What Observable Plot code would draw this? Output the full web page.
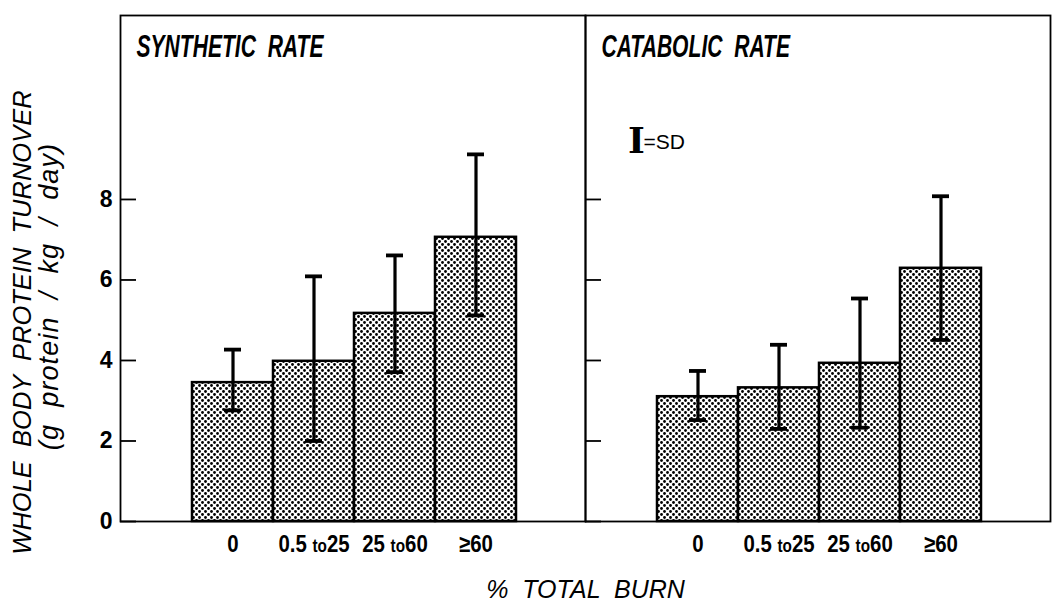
<!DOCTYPE html>
<html><head><meta charset="utf-8">
<script src="https://cdn.jsdelivr.net/npm/d3@7"></script>
<script src="https://cdn.jsdelivr.net/npm/@observablehq/plot@0.6"></script>
<style>
body{margin:0;background:#fff}
#chart svg{display:block}
#chart svg text{white-space:pre}
</style>
</head><body><div id="chart"></div>
<script>
// ---- data ----
const panels = ["SYNTHETIC  RATE", "CATABOLIC  RATE"];
const burnGroups = ["0", "0.5 to 25", "25 to 60", "≥60"];
const synthMean = [3.45, 3.98, 5.17, 7.06];
const synthLow  = [2.76, 2.00, 3.71, 5.12];
const synthHigh = [4.27, 6.09, 6.61, 9.12];
const catabMean = [3.10, 3.32, 3.93, 6.29];
const catabLow  = [2.52, 2.30, 2.33, 4.51];
const catabHigh = [3.74, 4.39, 5.54, 8.08];
const yTicks = [0, 2, 4, 6, 8];
const yTitle = "WHOLE  BODY  PROTEIN  TURNOVER";
const yUnits = "(g  protein  /  kg  /  day)";
const xTitle = "%  TOTAL  BURN";
const legendGlyph = "I";
const legendText = "=SD";

const rows = [];
burnGroups.forEach((g, i) => {
  rows.push({panel: panels[0], group: g, mean: synthMean[i], low: synthLow[i], high: synthHigh[i]});
  rows.push({panel: panels[1], group: g, mean: catabMean[i], low: catabLow[i], high: catabHigh[i]});
});

const SANS = "'Liberation Sans', Arial, Helvetica, sans-serif";

const chart = Plot.plot({
  width: 1056,
  height: 603,
  marginLeft: 120,
  marginRight: 6,
  marginTop: 15,
  marginBottom: 82,
  style: {background: "white", color: "black", fontFamily: SANS, overflow: "visible"},
  fx: {domain: panels, padding: 0, axis: null},
  x: {domain: burnGroups, paddingInner: 0, paddingOuter: 0.862, align: 0.514},
  y: {domain: [0, 12.57]},
  marks: [
    Plot.barY(rows, {fx: "panel", x: "group", y: "mean", fill: "url(#stipple)", stroke: "black", strokeWidth: 2.5}),
    Plot.ruleX(rows, {fx: "panel", x: "group", y1: "low", y2: "high", stroke: "black", strokeWidth: 3.2}),
    Plot.tickY(rows, {fx: "panel", x: "group", y: "high", stroke: "black", strokeWidth: 3.8, inset: 32}),
    Plot.tickY(rows, {fx: "panel", x: "group", y: "low", stroke: "black", strokeWidth: 3.8, inset: 32}),
    Plot.frame({stroke: "black", strokeWidth: 1.8}),
    // inward ticks in every panel
    Plot.axisY({ticks: yTicks, tickSize: 16, dx: 16, text: null, label: null, facetAnchor: null, strokeWidth: 1.8}),
    // tick labels only on the left
    Plot.axisY({ticks: yTicks, tickSize: 0, tickPadding: 8, label: null, fontSize: 23, fontWeight: "bold", tickFormat: d => String(d)}),
    Plot.axisX({tickSize: 0, tickPadding: 13, label: null, fontSize: 24, fontWeight: "bold"}),
    // panel titles
    Plot.text(panels, {fx: d => d, text: d => d, frameAnchor: "top-left", dx: 16, dy: 19, textAnchor: "start", lineAnchor: "top",
      fontSize: 31, fontStyle: "italic", fontWeight: "bold", fontFamily: SANS}),
    // SD legend in right panel
    Plot.text([panels[1]], {fx: d => d, text: () => legendGlyph, frameAnchor: "top-left", dx: 51, dy: 126, textAnchor: "middle", lineAnchor: "middle",
      fontSize: 36, fontWeight: "bold", fontFamily: "'DejaVu Serif', serif"}),
    Plot.text([panels[1]], {fx: d => d, text: () => legendText, frameAnchor: "top-left", dx: 58, dy: 127, textAnchor: "start", lineAnchor: "middle",
      fontSize: 21, fontFamily: SANS}),
    // y title (two lines)
    Plot.text([panels[0]], {fx: d => d, text: () => yTitle, frameAnchor: "left", rotate: -90, dx: -98, dy: 54, textAnchor: "middle",
      fontSize: 25.5, fontStyle: "italic", fontFamily: SANS}),
    Plot.text([panels[0]], {fx: d => d, text: () => yUnits, frameAnchor: "left", rotate: -90, dx: -71, dy: 28, textAnchor: "middle",
      fontSize: 27, fontStyle: "italic", fontFamily: SANS}),
    // x title centred on the panel divider
    Plot.text([panels[0]], {fx: d => d, text: () => xTitle, frameAnchor: "bottom-right", dy: 76, textAnchor: "middle",
      fontSize: 25, fontStyle: "italic", fontFamily: SANS})
  ]
});

const svg = d3.select(chart);
const defs = svg.insert("defs", ":first-child");
const pat = defs.append("pattern").attr("id", "stipple").attr("patternUnits", "userSpaceOnUse")
  .attr("width", 6).attr("height", 6);
pat.append("rect").attr("width", 6).attr("height", 6).attr("fill", "white");
pat.append("circle").attr("cx", 1.5).attr("cy", 1.5).attr("r", 1.4).attr("fill", "black");
pat.append("circle").attr("cx", 4.5).attr("cy", 4.5).attr("r", 1.4).attr("fill", "black");

// condense helper: squeeze text horizontally around its anchor
function condense(sel, k) {
  sel.each(function() {
    const t = d3.select(this);
    const tr = t.attr("transform") || "";
    t.attr("transform", tr + ` scale(${k},1)`);
  });
}

// x tick labels: smaller "to", condensed look
const xt = svg.selectAll('g[aria-label="x-axis tick label"] text');
xt.each(function() {
  const t = d3.select(this);
  const s = t.text();
  if (s.includes(" to ")) {
    const [a, b] = s.split(" to ");
    t.text(null);
    t.append("tspan").text(a + " ");
    t.append("tspan").attr("font-size", 18).text("to");
    t.append("tspan").text(b);
  }
});
condense(xt, 0.85);

// panel titles condensed
svg.selectAll("text").filter(function() { return panels.includes(d3.select(this).text()); })
  .call(condense, 0.68);

// letter-spaced units line
svg.selectAll("text").filter(function() { return d3.select(this).text() === yUnits; })
  .style("letter-spacing", "1.1px");

document.getElementById("chart").appendChild(chart);
</script>
</body></html>
